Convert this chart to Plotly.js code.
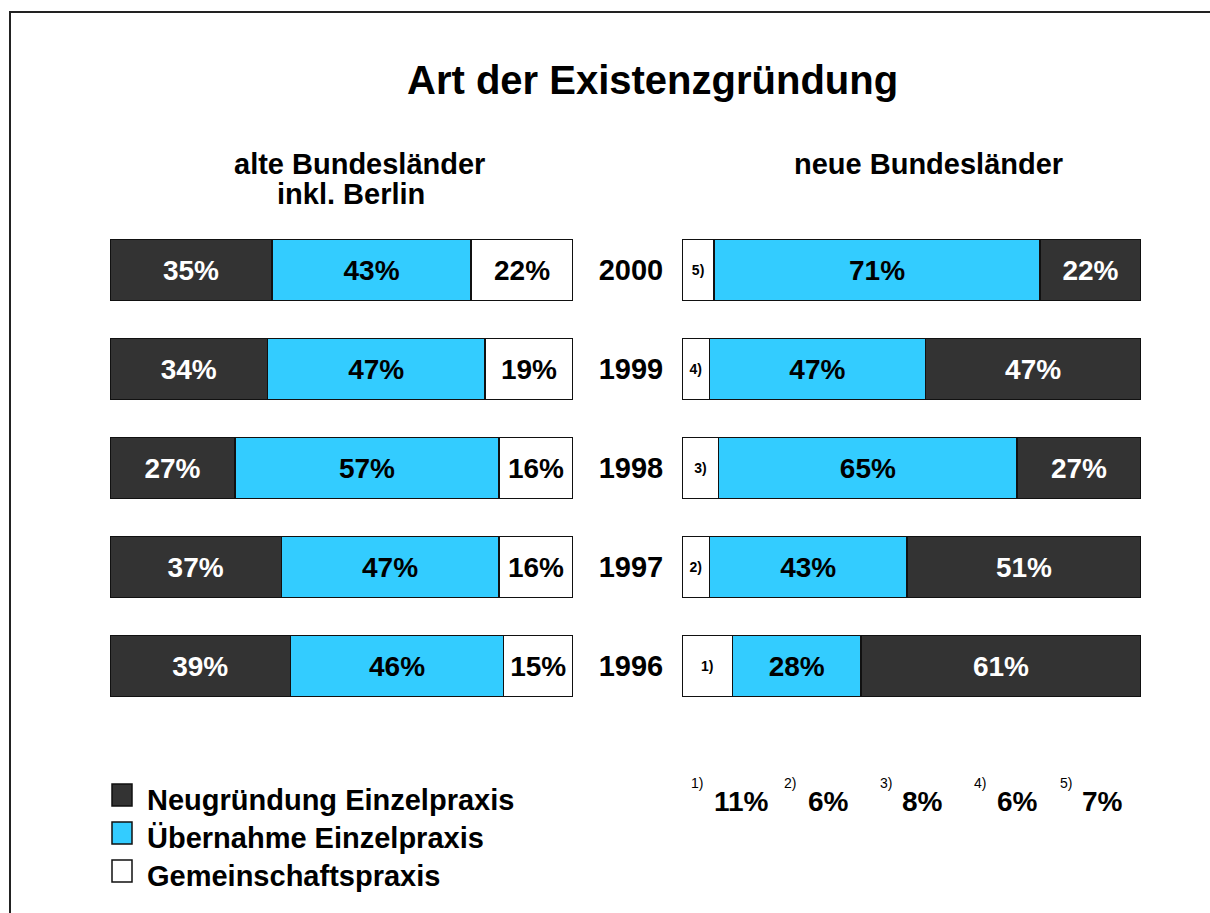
<!DOCTYPE html>
<html><head><meta charset="utf-8">
<script src="https://cdn.plot.ly/plotly-3.0.1.min.js"></script>
<style>html,body{margin:0;padding:0;background:#fff;} #chart{width:1210px;height:913px;}</style>
</head><body><div id="chart"></div>
<script>
// ---- data ----
const years = ['1996', '1997', '1998', '1999', '2000'];
const seriesNames = ['Neugründung Einzelpraxis', 'Übernahme Einzelpraxis', 'Gemeinschaftspraxis'];
const westNeu = [39, 37, 27, 34, 35];
const westUeb = [46, 47, 57, 47, 43];
const westGem = [15, 16, 16, 19, 22];
const ostNeu = [61, 51, 27, 47, 22];
const ostUeb = [28, 43, 65, 47, 71];
const ostGem = [11, 6, 8, 6, 7];
const ostGemMarks = ['1)', '2)', '3)', '4)', '5)'];
const chartTitle = 'Art der Existenzgründung';
const westTitle = ['alte Bundesländer', 'inkl. Berlin'];
const eastTitle = 'neue Bundesländer';

// ---- style ----
const W = 1210, H = 913;
const px = x => x / W, py = y => 1 - y / H;
const F = 'Liberation Sans, Arial, sans-serif';
const colors = ['#333333', '#33ccff', '#ffffff'];
const textColors = ['#ffffff', '#000000', '#000000'];
const pct = a => a.map(v => v + '%');

function bar(xs, idx, xaxis, texts, size) {
  return {
    type: 'bar', orientation: 'h', x: xs, y: years, xaxis: xaxis, yaxis: 'y',
    name: seriesNames[idx],
    marker: {color: colors[idx], line: {color: '#111111', width: 1.5}},
    text: texts, textposition: 'inside', insidetextanchor: 'middle', textangle: 0,
    textfont: {family: F, size: size, color: textColors[idx], weight: 'bold'},
    hoverinfo: 'skip', showlegend: false, width: 0.62
  };
}

const data = [
  bar(westNeu, 0, 'x', pct(westNeu), 28),
  bar(westUeb, 1, 'x', pct(westUeb), 28),
  bar(westGem, 2, 'x', pct(westGem), 28),
  bar(ostGem, 2, 'x2', ostGemMarks, 14),
  bar(ostUeb, 1, 'x2', pct(ostUeb), 28),
  bar(ostNeu, 0, 'x2', pct(ostNeu), 28)
];

const shapes = [
  {type: 'rect', xref: 'paper', yref: 'paper', x0: px(10), x1: px(1230), y0: py(940), y1: py(12),
   line: {color: '#222', width: 2}, fillcolor: 'rgba(0,0,0,0)', layer: 'below'}
];
const annotations = [];
function ann(text, x, y, size, opts) {
  annotations.push(Object.assign({
    text: text, xref: 'paper', yref: 'paper', x: px(x), y: py(y), showarrow: false,
    xanchor: 'center', yanchor: 'middle',
    font: {family: F, size: size, color: '#000', weight: 'bold'}
  }, opts || {}));
}
ann(chartTitle, 652, 80.5, 40);
ann(westTitle[0], 359, 164, 29);
ann(westTitle[1], 351, 194, 29);
ann(eastTitle, 928, 164, 29);

// legend
const legY = [795, 833, 871];
seriesNames.forEach((n, i) => {
  shapes.push({type: 'rect', xref: 'paper', yref: 'paper', x0: px(112), x1: px(132),
    y0: py(legY[i] + 11), y1: py(legY[i] - 11),
    fillcolor: colors[i], line: {color: '#111', width: 1.5}});
  ann(n, 145, legY[i] + 5, 29, {xanchor: 'left'});
});

// footnotes
const supX = [689, 782, 878, 972, 1058];
const valX = [712, 806, 900, 995, 1080];
ostGemMarks.forEach((m, i) => {
  ann(m, supX[i], 783, 14, {xanchor: 'left', font: {family: F, size: 14, color: '#000'}});
  ann(ostGem[i] + '%', valX[i], 801, 28, {xanchor: 'left'});
});

const layout = {
  width: W, height: H, margin: {l: 0, r: 0, t: 0, b: 0},
  paper_bgcolor: '#ffffff', plot_bgcolor: 'rgba(0,0,0,0)',
  barmode: 'stack',
  xaxis: {domain: [px(110), px(573)], range: [0, 100], visible: false, anchor: 'y', fixedrange: true},
  xaxis2: {domain: [px(682), px(1141)], range: [0, 100], visible: false, anchor: 'y', fixedrange: true},
  yaxis: {domain: [py(715.5), py(220.5)], type: 'category', categoryorder: 'array', categoryarray: years,
    range: [-0.5, 4.5], anchor: 'x2', side: 'left', showgrid: false, zeroline: false, showline: false,
    ticks: 'outside', ticklen: 12, tickcolor: 'rgba(0,0,0,0)', fixedrange: true,
    tickfont: {family: F, size: 29, color: '#000', weight: 'bold'}},
  shapes: shapes, annotations: annotations, showlegend: false
};

Plotly.newPlot('chart', data, layout, {displayModeBar: false, staticPlot: true});
</script>
</body></html>
